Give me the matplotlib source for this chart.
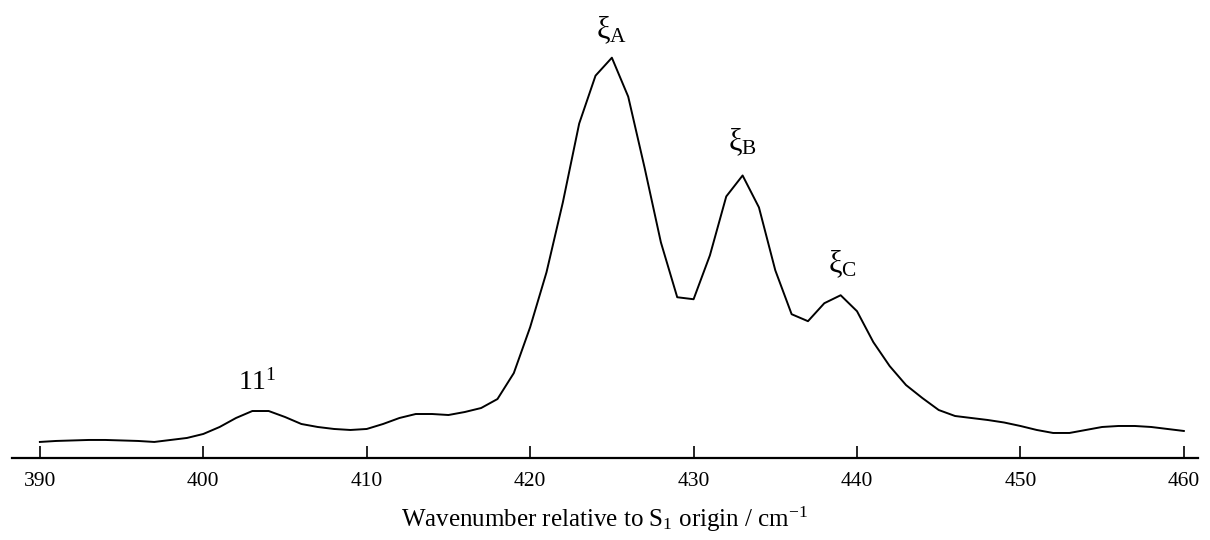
import matplotlib.pyplot as plt

plt.rcParams["font.family"] = ["Liberation Serif", "DejaVu Serif"]
plt.rcParams["mathtext.fontset"] = "custom"
plt.rcParams["mathtext.rm"] = "Liberation Serif"
plt.rcParams["mathtext.it"] = "Liberation Serif:italic"

# spectrum (arbitrary intensity units)
wavenumber = [390, 391, 392, 393, 394, 395, 396, 397, 398, 399,
              400, 401, 402, 403, 404, 405, 406, 407, 408, 409,
              410, 411, 412, 413, 414, 415, 416, 417, 418, 419,
              420, 421, 422, 423, 424, 425, 426, 427, 428, 429,
              430, 431, 432, 433, 434, 435, 436, 437, 438, 439,
              440, 441, 442, 443, 444, 445, 446, 447, 448, 449,
              450, 451, 452, 453, 454, 455, 456, 457, 458, 459, 460]
intensity = [16, 17, 17.5, 18, 18, 17.5, 17, 16, 18, 20,
             24, 31, 40, 47, 47, 41, 34, 31, 29, 28,
             29, 34, 40, 44, 44, 43, 46, 50, 59, 85,
             131, 186, 256, 335, 383, 401, 362, 291, 216, 161,
             159, 203, 262, 283, 251, 188, 144, 137, 155, 163,
             147, 116, 92, 73, 60, 48, 42, 40, 38, 35.5,
             32, 28, 25, 25, 28, 31, 32, 32, 31, 29, 27]

peak_labels = [r"ξ$_\mathrm{A}$", r"ξ$_\mathrm{B}$", r"ξ$_\mathrm{C}$", r"11$^\mathrm{1}$"]
peak_pos = [425, 433, 439.1, 403.3]
peak_height = [413, 301, 178, 62]
ticks = [390, 400, 410, 420, 430, 440, 450, 460]

fig, ax = plt.subplots(figsize=(12.1, 5.4), dpi=100)
fig.subplots_adjust(left=0.01, right=0.99, bottom=0.152, top=0.98)

ax.plot(wavenumber, intensity, color="black", lw=1.4)

for lab, x, y in zip(peak_labels, peak_pos, peak_height):
    size = 20 if lab.startswith("11") else 22
    ax.text(x, y, lab, ha="center", va="bottom", fontsize=size)

ax.set_xlim(388.3, 460.86)
ax.set_ylim(0, 448)
ax.set_xticks(ticks)
ax.set_yticks([])
for side in ["top", "right", "left"]:
    ax.spines[side].set_visible(False)
ax.spines["bottom"].set_linewidth(1.6)
ax.tick_params(axis="x", direction="in", length=9, width=1.2, labelsize=15.5, pad=10)
ax.set_xlabel(r"Wavenumber relative to S$_\mathrm{1}$ origin / cm$^\mathrm{-1}$", fontsize=18, labelpad=10)

fig.savefig("out.png", dpi=100)
